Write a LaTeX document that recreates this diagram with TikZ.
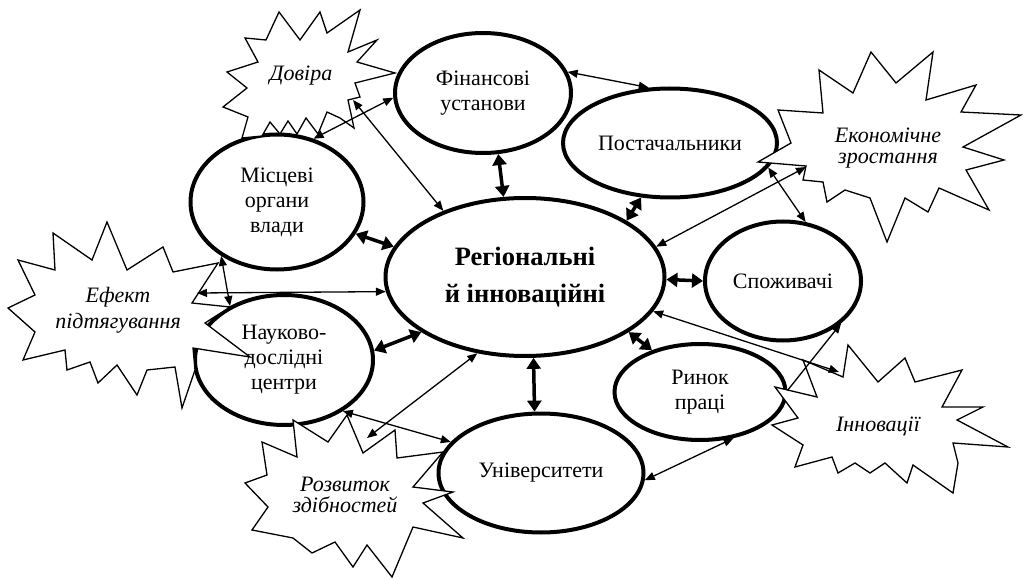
\documentclass[tikz,border=0pt]{standalone}
\usepackage{fontspec}
\setmainfont{Liberation Serif}
\usetikzlibrary{positioning,shapes.geometric,arrows.meta}

\begin{document}
\begin{tikzpicture}[x=1pt,y=-1pt]
  \useasboundingbox (0,0) rectangle (1023,580);
  \begin{scope}[
    on grid,
    every node/.style={
      draw,ellipse,fill=white,
      line width=4pt,
      inner sep=0pt,
      align=center,
      font=\fontsize{22}{25}\selectfont,
    },
    ]
    \node[minimum width=279pt,minimum height=158pt,
      font=\fontsize{26.5}{37}\selectfont\bfseries] (hub) at (525,277) {Регіональні\\й інноваційні};
    \node[above left=184pt and 42pt of hub,minimum width=176pt,minimum height=120pt] (actorFin) {Фінансові\\установи};
    \node[above right=134pt and 145pt of hub,minimum width=214pt,minimum height=109pt] (actorSup) {Постачальники};
    \node[below right=4pt and 258pt of hub,minimum width=156pt,minimum height=119pt] (actorCons) {Споживачі};
    \node[above left=75pt and 248pt of hub,minimum width=173pt,minimum height=135pt] (actorLoc) {Місцеві\\органи\\влади};
    \node[below left=83pt and 241pt of hub,minimum width=178pt,minimum height=130pt] (actorRnd) {Науково-\\дослідні\\центри};
    \node[below right=196pt and 16pt of hub,minimum width=205pt,minimum height=119pt] (actorUni) {Університети};
    \node[below right=115pt and 175pt of hub,minimum width=171pt,minimum height=96pt] (actorLab) {Ринок\\праці};
  \end{scope}
  % effects
  \begin{scope}[
    burst/.style={draw,fill=white,line width=1.3pt,line join=miter},
    every node/.style={align=center,inner sep=0pt,font=\fontsize{22}{21}\selectfont\itshape},
    ]
    \draw[burst] (245,38) -- (266,40) -- (279,12) -- (300,40) -- (320,12) -- (327,33) -- (360,10)
      -- (348,52) -- (377,40) -- (357,62) -- (395,73) -- (355,83) -- (360,97) -- (348,100)
      -- (354,128) -- (340,118) -- (327,112) -- (318,134) -- (306,118) -- (297,134) -- (288,121)
      -- (280,134) -- (270,122) -- (262,136) -- (242,138) -- (248,117) -- (223,107) -- (247,88)
      -- (227,72) -- (258,62) -- cycle;
    \draw[burst] (871,52) -- (896,83) -- (933,52) -- (926,100) -- (976,85) -- (961,112) -- (1021,115)
      -- (963,147) -- (1004,160) -- (966,170) -- (989,210) -- (939,188) -- (928,212) -- (905,198)
      -- (887,242) -- (870,198) -- (845,190) -- (827,202) -- (823,182) -- (803,180) -- (806,166)
      -- (758,162) -- (791,143) -- (778,110) -- (823,113) -- (819,70) -- (853,93) -- cycle;
    \draw[burst] (107,222) -- (127,270) -- (163,247) -- (173,272) -- (218,263) -- (192,303) -- (230,307)
      -- (205,323) -- (250,357) -- (193,348) -- (195,370) -- (182,408) -- (175,367) -- (147,370)
      -- (137,395) -- (117,365) -- (98,383) -- (90,362) -- (67,370) -- (65,350) -- (23,360)
      -- (35,332) -- (8,308) -- (35,295) -- (18,260) -- (55,270) -- (53,233) -- (92,260) -- cycle;
    \draw[burst] (347,415) -- (363,453) -- (395,430) -- (397,458) -- (443,452) -- (413,487) -- (453,492)
      -- (423,503) -- (463,538) -- (413,527) -- (392,577) -- (367,545) -- (353,567) -- (335,542)
      -- (312,553) -- (293,538) -- (252,530) -- (268,507) -- (245,483) -- (267,475) -- (262,442)
      -- (297,457) -- (293,420) -- (328,442) -- cycle;
    \draw[burst] (848,345) -- (878,382) -- (905,358) -- (915,382) -- (962,370) -- (942,407) -- (983,407)
      -- (957,420) -- (1008,447) -- (953,443) -- (958,463) -- (953,493) -- (913,465) -- (907,483)
      -- (885,463) -- (870,473) -- (855,463) -- (838,473) -- (832,457) -- (795,467) -- (803,445)
      -- (772,425) -- (798,418) -- (775,387) -- (817,397) -- (803,360) -- (843,377) -- cycle;
    \node (effTrust) at (301,76) {Довіра};
    \node (effGrowth) at (888,148) {Економічне\\зростання};
    \node[font=\fontsize{22}{26}\selectfont\itshape] (effPull) at (118,310) {Ефект\\підтягування};
    \node (effSkill) at (345,495) {Розвиток\\здібностей};
    \node (effInnov) at (878,426) {Інновації};
    \coordinate (effTrustTip) at (353,100);
    \coordinate (effGrowthTip) at (806,167);
    \coordinate (effPullTip) at (197,293);
    \coordinate (effSkillTip) at (367,438);
    \coordinate (effInnovTip) at (839,372);
  \end{scope}
  % links
  \begin{scope}[
    weak/.style={draw,line width=1.3pt,{Triangle[length=10pt,width=8pt]}-{Triangle[length=10pt,width=8pt]}},
    weakto/.style={draw,line width=1.3pt,-{Triangle[length=10pt,width=8pt]}},
    strong/.style={draw,line width=3.5pt,{Triangle[length=11pt,width=14pt]}-{Triangle[length=11pt,width=14pt]}},
    ]
    \path[strong] (actorFin.-76) -- (hub.105);
    \path[strong] (actorLoc.-22) -- (hub.167);
    \path[strong] (actorSup.242) -- (hub.29);
    \path[strong] (hub.-1) -- (actorCons.180);
    \path[strong] (actorRnd.6) -- (hub.208);
    \path[strong] (hub.276) -- (actorUni.96);
    \path[strong] (hub.-28) -- (actorLab.139);
    \path[weak] (actorFin.14) -- (actorSup.111);
    \path[weak] (actorLoc.60) -- (actorFin.183);
    \path[weak] (effTrustTip) -- (hub.141);
    \path[weak] (actorSup.-14) -- (actorCons.69);
    \path[weak] (effGrowthTip) -- (hub.13);
    \path[weak] (effPullTip) -- (hub.186);
    \path[weak] (actorLoc.224) -- (actorRnd.135);
    \path[weak] (actorRnd.-41) -- (actorUni.161);
    \path[weak] (effSkillTip) -- (hub.238);
    \path[weak] (actorUni.-4) -- (actorLab.-54);
    \path[weak] (hub.-15) -- (effInnovTip);
    \path[weakto] (actorLab.1) -- (actorCons.-36);
  \end{scope}
\end{tikzpicture}
\end{document}
